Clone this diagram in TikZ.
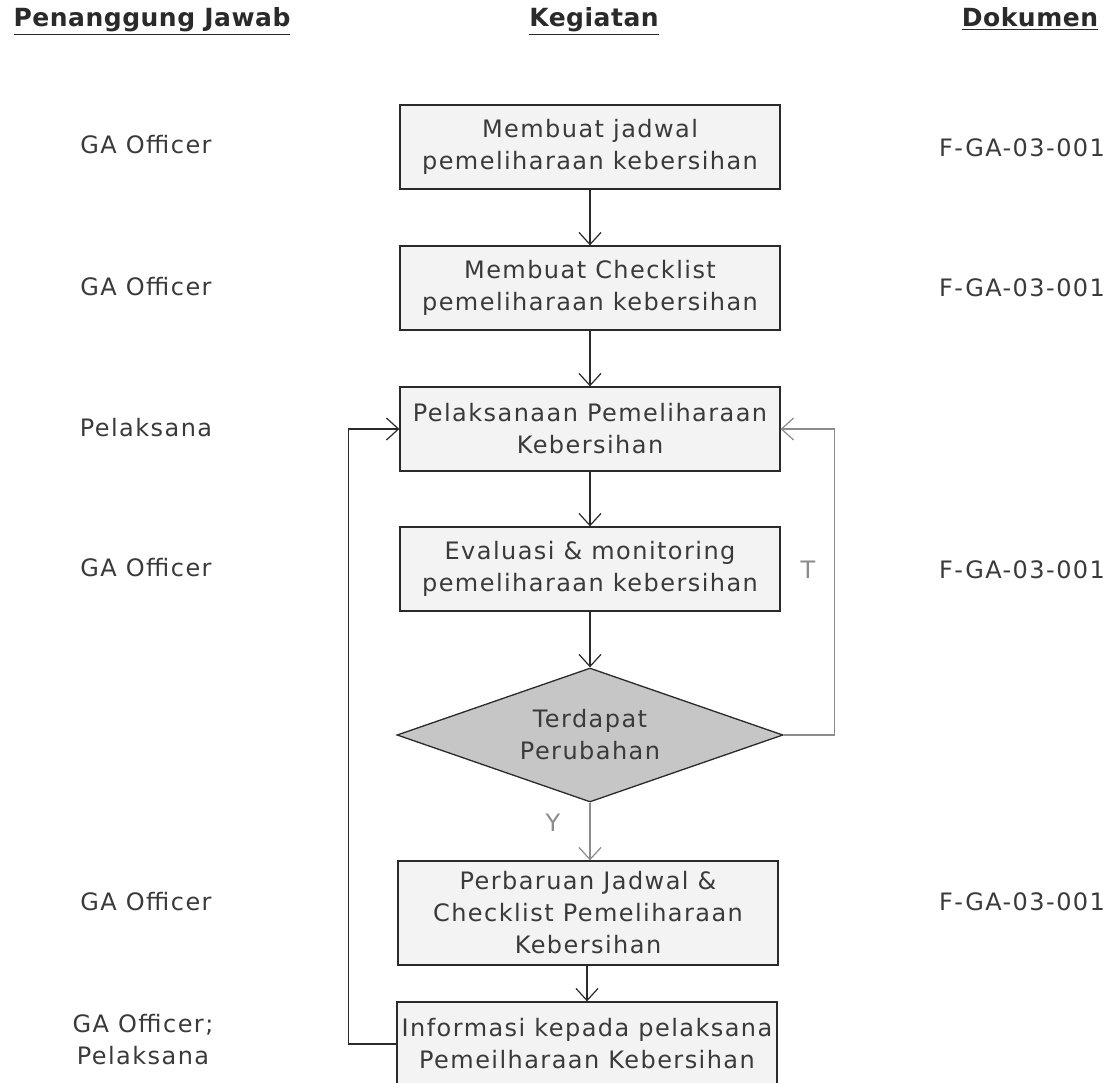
\documentclass[tikz,border=0pt]{standalone}
\usepackage{fontspec}
\setmainfont{DejaVu Sans}[LetterSpace = 6.0]
\newfontfamily\headfont{DejaVu Sans}[LetterSpace = 2.0]
\usetikzlibrary{shapes.geometric, arrows.meta}

\definecolor{inkgray}{HTML}{3A3A3A}
\definecolor{linegray}{HTML}{2A2A2A}
\definecolor{loopgray}{HTML}{8C8C8C}
\definecolor{boxfill}{HTML}{F3F3F3}
\definecolor{diamondfill}{HTML}{C6C6C6}
\newcommand{\flowtext}{\fontsize{24}{32}\selectfont}
\newcommand{\headtext}{\headfont\bfseries\fontsize{25}{30}\selectfont}

\begin{document}
\begin{tikzpicture}[x = 1pt, y = -1pt,
    process/.style = {draw = linegray, line width = 1.3pt, fill = boxfill,
      minimum width = 380pt, minimum height = 84pt, inner sep = 0pt,
      align = center, text = inkgray, font = \flowtext},
    decision/.style = {diamond, draw = linegray, line width = 1.3pt,
      fill = diamondfill, aspect = 2.88, minimum width = 386pt,
      minimum height = 134pt, inner sep = 0pt, align = center,
      text = inkgray, font = \flowtext},
    role/.style = {align = center, text = inkgray, font = \flowtext},
    header/.style = {anchor = base, text = linegray, font = \headtext},
    flow/.style = {draw = linegray, line width = 1.2pt,
      -{Straight Barb[length = 12pt, width = 22pt, line width = 1.2pt]}},
    loopflow/.style = {flow, draw = loopgray},
    answer/.style = {text = loopgray, font = \flowtext}]

    \useasboundingbox (0, 0) rectangle (1111, 1083);

    % column headers
    \node[header] (hrole) at (152, 27) {\underline{Penanggung Jawab}};
    \node[header] (hact)  at (594, 27) {\underline{Kegiatan}};
    \node[header] (hdoc)  at (1030, 27) {\underline{Dokumen}};

    % activities
    \node[process] (jadwal)      at (590, 147)
      {Membuat jadwal\\pemeliharaan kebersihan};
    \node[process] (checklist)   at (590, 288)
      {Membuat Checklist\\pemeliharaan kebersihan};
    \node[process] (pelaksanaan) at (590, 429)
      {Pelaksanaan Pemeliharaan\\Kebersihan};
    \node[process] (evaluasi)    at (590, 569)
      {Evaluasi \& monitoring\\pemeliharaan kebersihan};
    \node[decision] (perubahan)  at (590, 735) {Terdapat\\Perubahan};
    \node[process, minimum height = 104pt] (perbaruan) at (588, 913)
      {Perbaruan Jadwal \&\\Checklist Pemeliharaan\\Kebersihan};
    \node[process] (informasi)   at (587, 1044)
      {Informasi kepada pelaksana\\Pemeilharaan Kebersihan};

    % responsible
    \node[role] (r1) at (146, 145) {GA Officer};
    \node[role] (r2) at (146, 287) {GA Officer};
    \node[role] (r3) at (146, 428) {Pelaksana};
    \node[role] (r4) at (146, 568) {GA Officer};
    \node[role] (r5) at (146, 902) {GA Officer};
    \node[role] (r6) at (143, 1040) {GA Officer;\\Pelaksana};

    % documents
    \node[role] (d1) at (1022, 148) {F-GA-03-001};
    \node[role] (d2) at (1022, 288) {F-GA-03-001};
    \node[role] (d4) at (1022, 570) {F-GA-03-001};
    \node[role] (d5) at (1022, 902) {F-GA-03-001};

    % connectors
    \draw[flow] (jadwal) -- (checklist);
    \draw[flow] (checklist) -- (pelaksanaan);
    \draw[flow] (pelaksanaan) -- (evaluasi);
    \draw[flow] (evaluasi) -- (perubahan);
    \draw[loopflow] (perubahan.south) -- (perbaruan.north -| perubahan.south);
    \draw[flow] (perbaruan.south -| informasi.north) -- (informasi.north);
    \draw[loopflow] (perubahan.east) -- ++(51, 0) |- (pelaksanaan.east);
    \draw[flow] (informasi.west) -- ++(-48, 0) |- (pelaksanaan.west);

    \node[answer] (tlabel) at (808, 570) {T};
    \node[answer] (ylabel) at (553, 823) {Y};
  \end{tikzpicture}
\end{document}
